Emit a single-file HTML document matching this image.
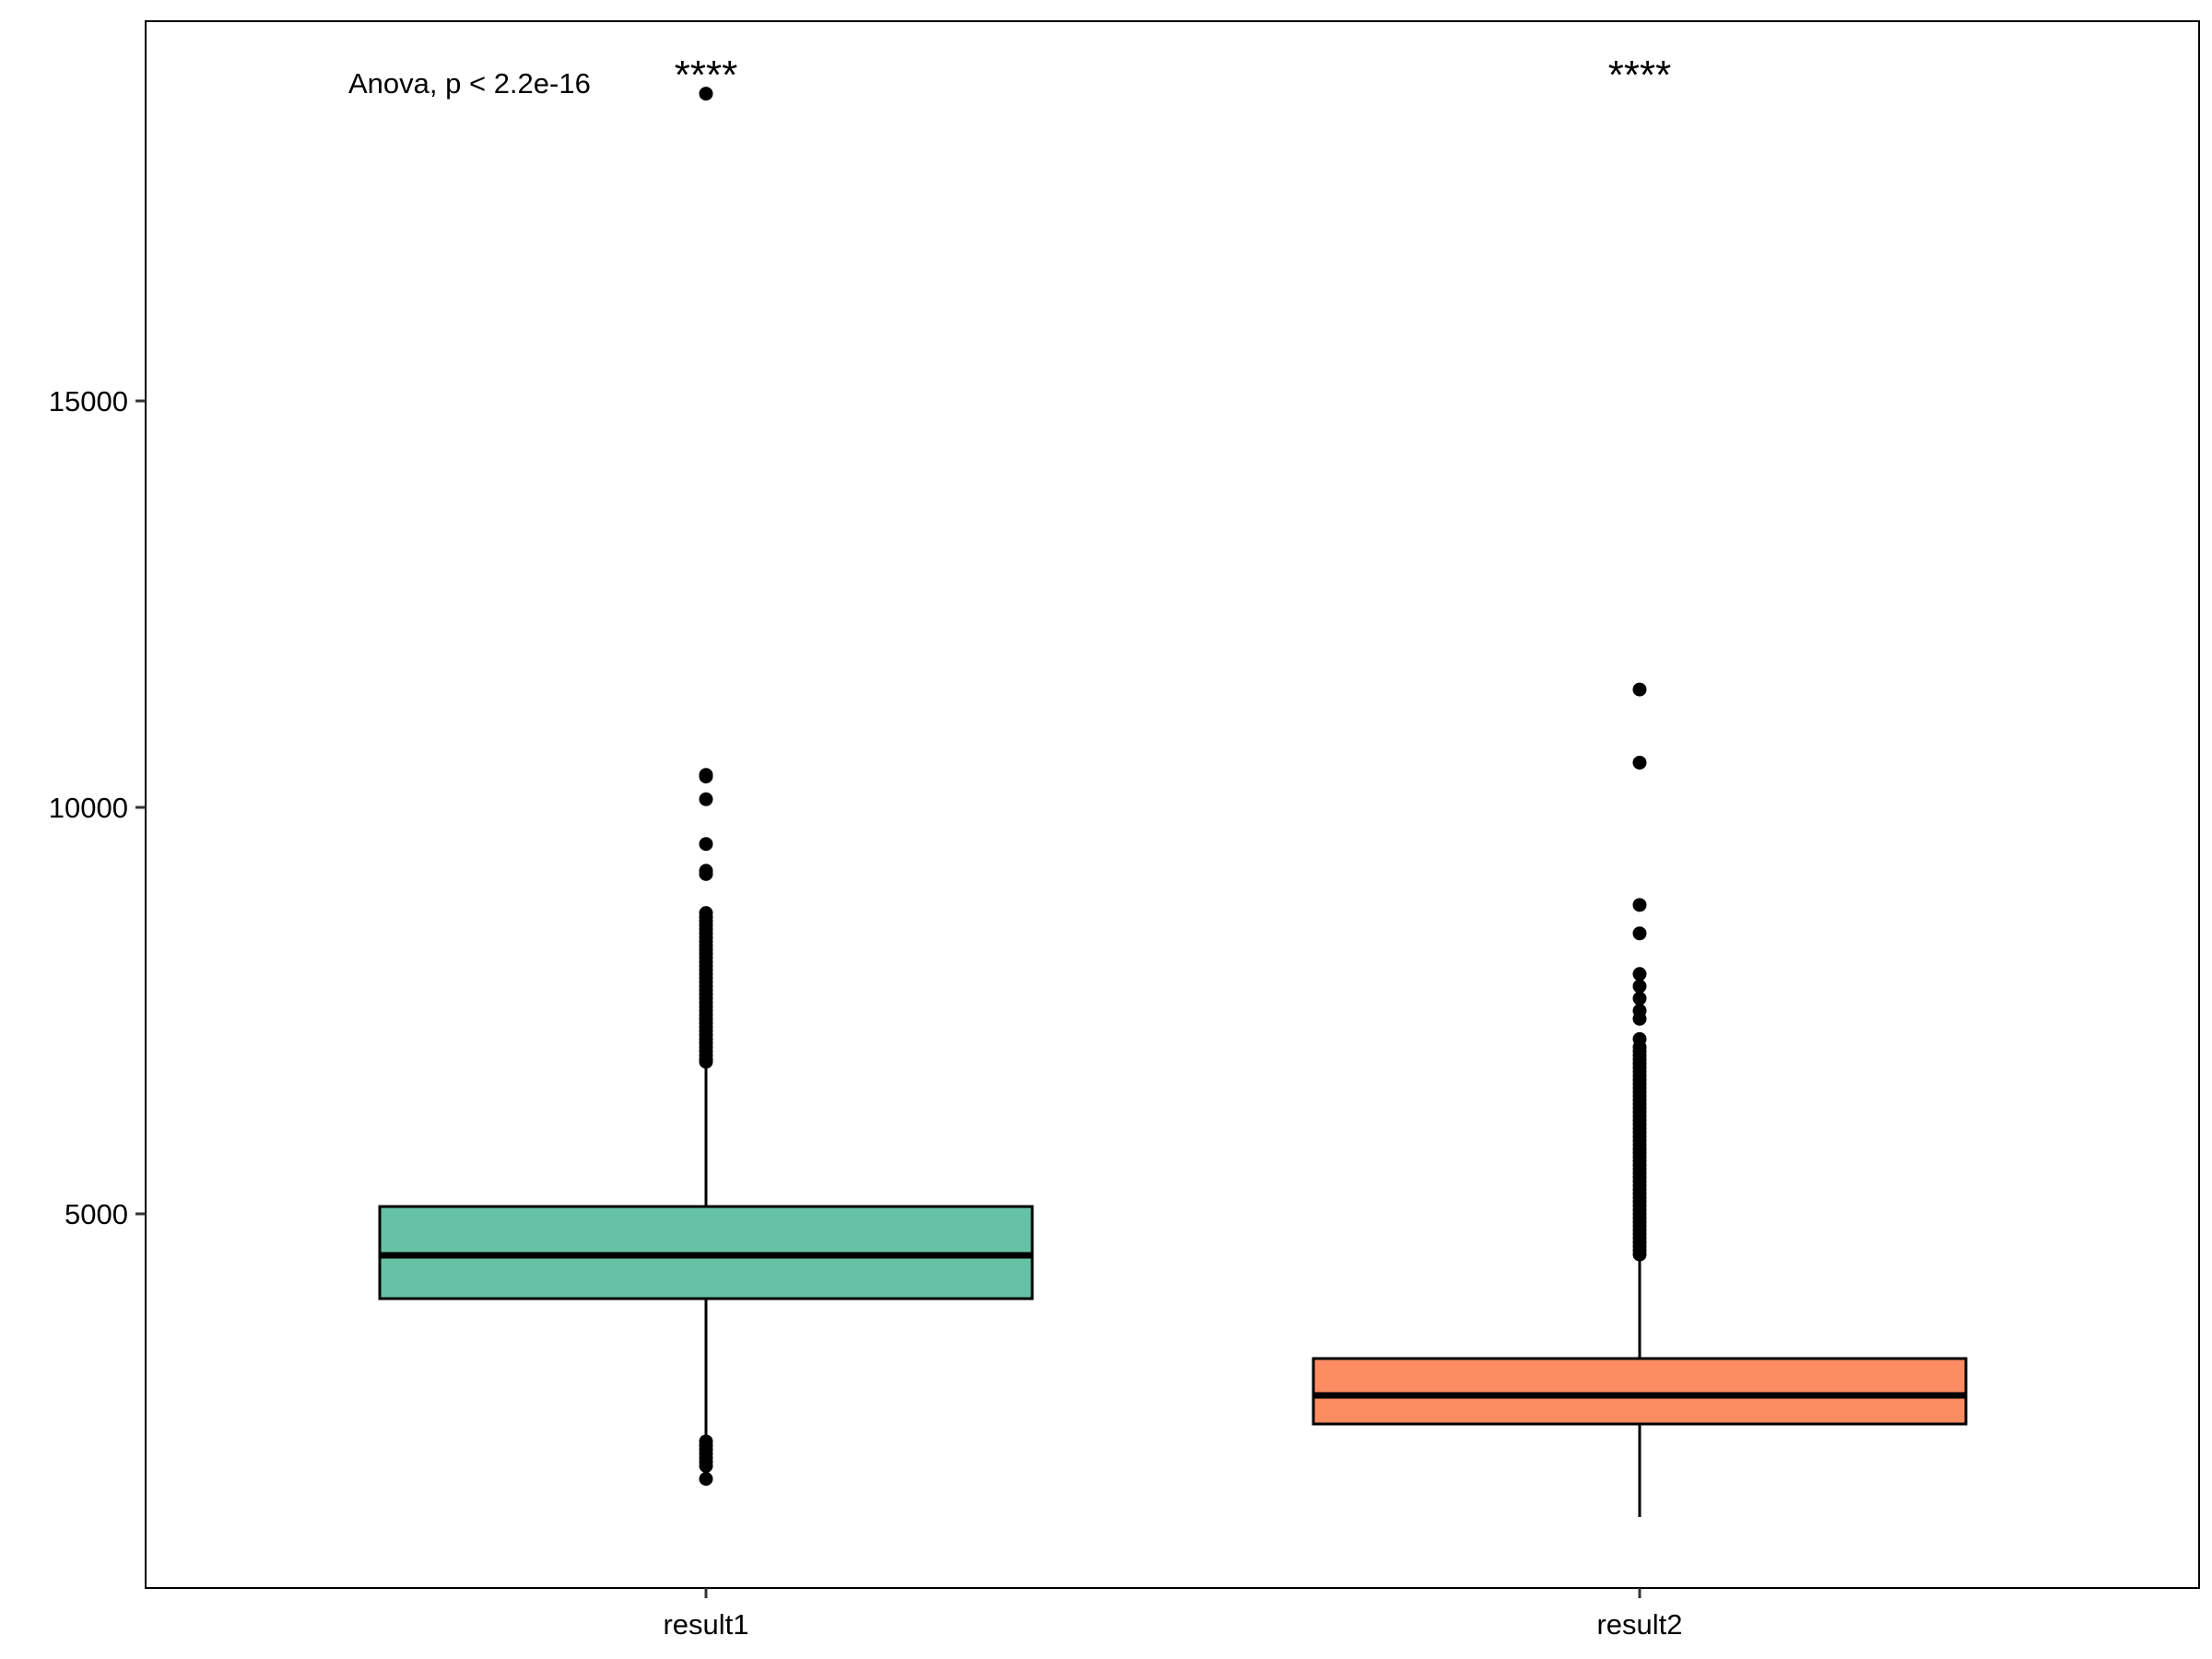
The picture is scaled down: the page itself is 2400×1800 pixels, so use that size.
<!DOCTYPE html>
<html><head><meta charset="utf-8"><style>
html,body{margin:0;padding:0;background:#fff;}
svg{display:block;font-family:"Liberation Sans",sans-serif;}
</style></head><body>
<svg id="chart" width="2400" height="1800" viewBox="0 0 2400 1800">
<rect x="0" y="0" width="2400" height="1800" fill="#fff"/>
<g id="marks"></g>
<rect x="158" y="23" width="2228" height="1700" fill="none" stroke="#000" stroke-width="2"/>
<g id="axes"></g>
<text x="378" y="101" font-size="31" fill="#000">Anova, p &lt; 2.2e-16</text>
</svg>
<script>
const categories = ["result1", "result2"];
const q1 = [3957, 2415];
const medians = [4490, 2767];
const q3 = [5090, 3220];
const whiskerLow = [2220, 1270];
const whiskerHigh = [6850, 4460];
const outliers1 = [18780, 10400, 10380, 10100, 9550, 9220, 9180, 8700, 8650, 8600, 8550, 8500, 8450, 8400, 8350, 8300, 8250, 8200, 8150, 8100, 8050, 8000, 7950, 7900, 7850, 7800, 7750, 7700, 7650, 7600, 7550, 7500, 7450, 7400, 7350, 7300, 7250, 7200, 7150, 7100, 7050, 7000, 6950, 6900, 6870, 2200, 2150, 2100, 2050, 2000, 1950, 1900, 1740];
const outliers2 = [11450, 10550, 8800, 8450, 7950, 7800, 7650, 7500, 7400, 7150, 7050, 7000, 6950, 6900, 6850, 6800, 6750, 6700, 6650, 6600, 6550, 6500, 6450, 6400, 6350, 6300, 6250, 6200, 6150, 6100, 6050, 6000, 5950, 5900, 5850, 5800, 5750, 5700, 5650, 5600, 5550, 5500, 5450, 5400, 5350, 5300, 5250, 5200, 5150, 5100, 5050, 5000, 4950, 4900, 4850, 4800, 4750, 4700, 4650, 4600, 4550, 4500];
const outliers = [outliers1, outliers2];
const yTicks = [5000, 10000, 15000];
const yTickLabels = ["5000", "10000", "15000"];
const sigLabels = ["****", "****"];
const fills = ["#66C2A5", "#FC8D62"];

const NS = "http://www.w3.org/2000/svg";
const yScale = v => 1317 - (v - 5000) * 0.0882;
const xScale = i => 766 + i * 1013;
const halfW = 354;

function mk(tag, attrs, parent) {
  const el = document.createElementNS(NS, tag);
  for (const k in attrs) el.setAttribute(k, attrs[k]);
  parent.appendChild(el);
  return el;
}
const marks = document.getElementById("marks");
const axes = document.getElementById("axes");

categories.forEach((c, i) => {
  const cx = xScale(i);
  const g = mk("g", {}, marks);
  
  
  const w1 = mk("line", {x1: cx, x2: cx, y1: yScale(q3[i]), y2: yScale(whiskerHigh[i]), stroke: "#000", "stroke-width": 3}, g);
  
  
  const w2 = mk("line", {x1: cx, x2: cx, y1: yScale(q1[i]), y2: yScale(whiskerLow[i]), stroke: "#000", "stroke-width": 3}, g);
  
  
  const box = mk("rect", {x: cx - halfW, y: yScale(q3[i]), width: 2 * halfW, height: yScale(q1[i]) - yScale(q3[i]), fill: fills[i], stroke: "#000", "stroke-width": 3}, g);
  
  
  const med = mk("line", {x1: cx - halfW, x2: cx + halfW, y1: yScale(medians[i]), y2: yScale(medians[i]), stroke: "#000", "stroke-width": 7}, g);
  
  
  outliers[i].forEach(v => {
    const p = mk("circle", {cx: cx, cy: yScale(v), r: 7.5, fill: "#000"}, g);
    
    
  });
  const s = mk("text", {x: cx, y: 96, "font-size": 44, "text-anchor": "middle", fill: "#000"}, g);
  s.textContent = sigLabels[i];
  
  
  // x tick + label
  const t = mk("line", {x1: cx, x2: cx, y1: 1723, y2: 1734, stroke: "#333", "stroke-width": 3}, axes);
  
  
  const l = mk("text", {x: cx, y: 1773, "font-size": 31, "text-anchor": "middle", fill: "#000"}, axes);
  l.textContent = c;
  
  
});

yTicks.forEach((v, i) => {
  const y = yScale(v);
  const t = mk("line", {x1: 147, x2: 158, y1: y, y2: y, stroke: "#333", "stroke-width": 3}, axes);
  
  
  const l = mk("text", {x: 139, y: y + 11, "font-size": 31, "text-anchor": "end", fill: "#000"}, axes);
  l.textContent = yTickLabels[i];
  
  
});
</script>
</body></html>
